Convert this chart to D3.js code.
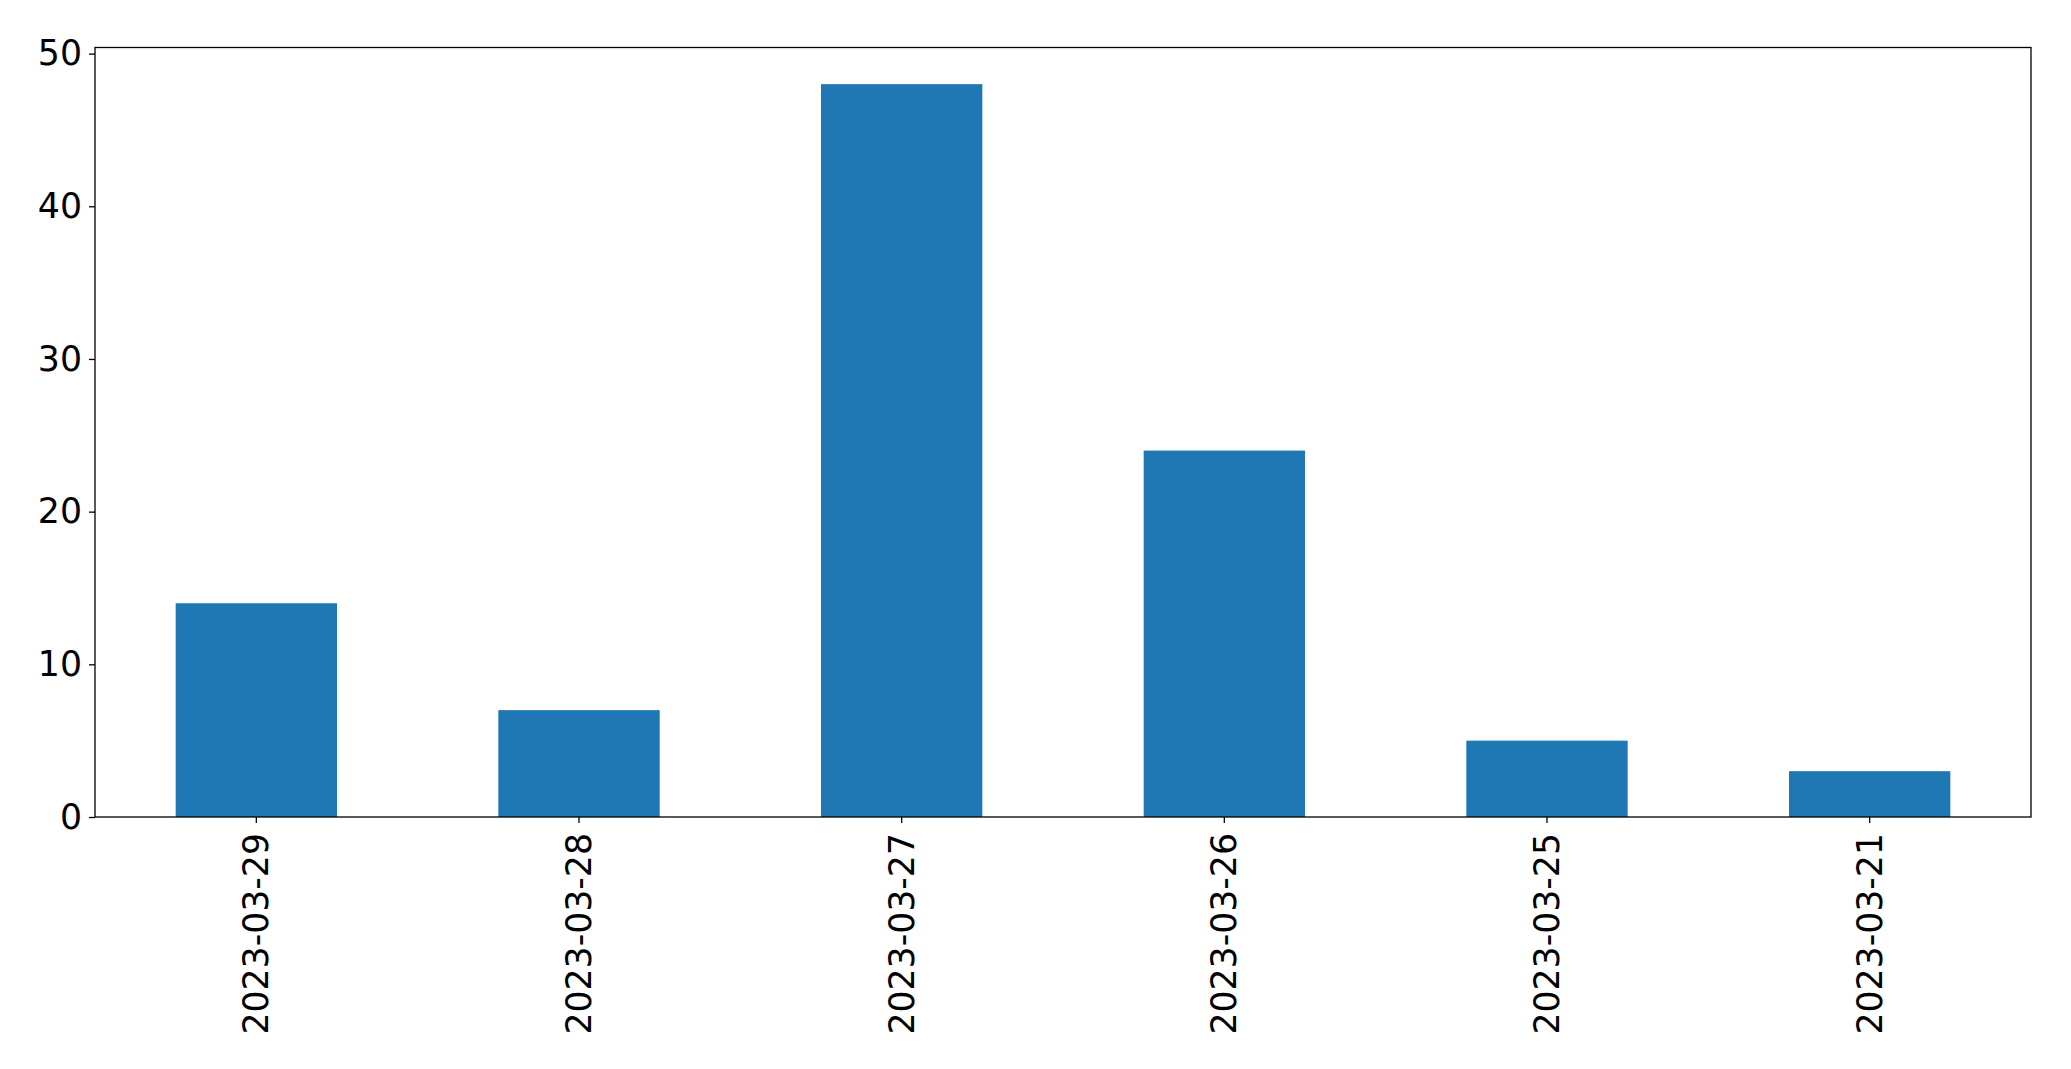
<!DOCTYPE html>
<html><head><meta charset="utf-8">
<script src="https://cdn.jsdelivr.net/npm/d3@7"></script>
<style>html,body{margin:0;padding:0;background:#fff;}</style>
</head><body>
<svg id="chart" width="2071" height="1069"></svg>
<script>
const categories = ["2023-03-29","2023-03-28","2023-03-27","2023-03-26","2023-03-25","2023-03-21"];
const values = [14, 7, 48, 24, 5, 3];
const yTicks = [0, 10, 20, 30, 40, 50];

const W = 2071, H = 1069;
const m = {left: 95, right: 40, top: 47.5, bottom: 252};
const iw = W - m.left - m.right, ih = H - m.top - m.bottom;
const svg = d3.select("#chart");
const g = svg.append("g").attr("transform", `translate(${m.left},${m.top})`);

const x = d3.scaleBand().domain(categories).range([0, iw]).paddingInner(0.5).paddingOuter(0.25);
const y = d3.scaleLinear().domain([0, d3.max(values) * 1.05]).range([ih, 0]);

g.selectAll("rect.bar").data(values).join("rect")
  .attr("class", "bar")
  .attr("x", (d, i) => x(categories[i]))
  .attr("width", x.bandwidth())
  .attr("y", d => y(d))
  .attr("height", d => ih - y(d))
  .attr("fill", "#1f77b4");

const fs = "34.7px";
const xAxis = g.append("g").attr("transform", `translate(0,${ih})`)
  .call(d3.axisBottom(x).tickSize(6).tickPadding(8));
xAxis.select(".domain").remove();
xAxis.selectAll("line").attr("stroke", "#000").attr("stroke-width", 1.3);
xAxis.selectAll("text")
  .attr("font-family", "DejaVu Sans").attr("font-size", fs).attr("fill", "#000")
  .attr("transform", "rotate(-90)")
  .attr("text-anchor", "end")
  .attr("x", -16).attr("y", 0).attr("dy", "0.35em");

const yAxis = g.append("g").call(d3.axisLeft(y).tickValues(yTicks).tickSize(6).tickPadding(7));
yAxis.select(".domain").remove();
yAxis.selectAll("line").attr("stroke", "#000").attr("stroke-width", 1.3);
yAxis.selectAll("text").attr("font-family", "DejaVu Sans").attr("font-size", fs).attr("fill", "#000");

g.append("rect").attr("x", 0).attr("y", 0).attr("width", iw).attr("height", ih)
  .attr("fill", "none").attr("stroke", "#000").attr("stroke-width", 1.3);
</script>
</body></html>
